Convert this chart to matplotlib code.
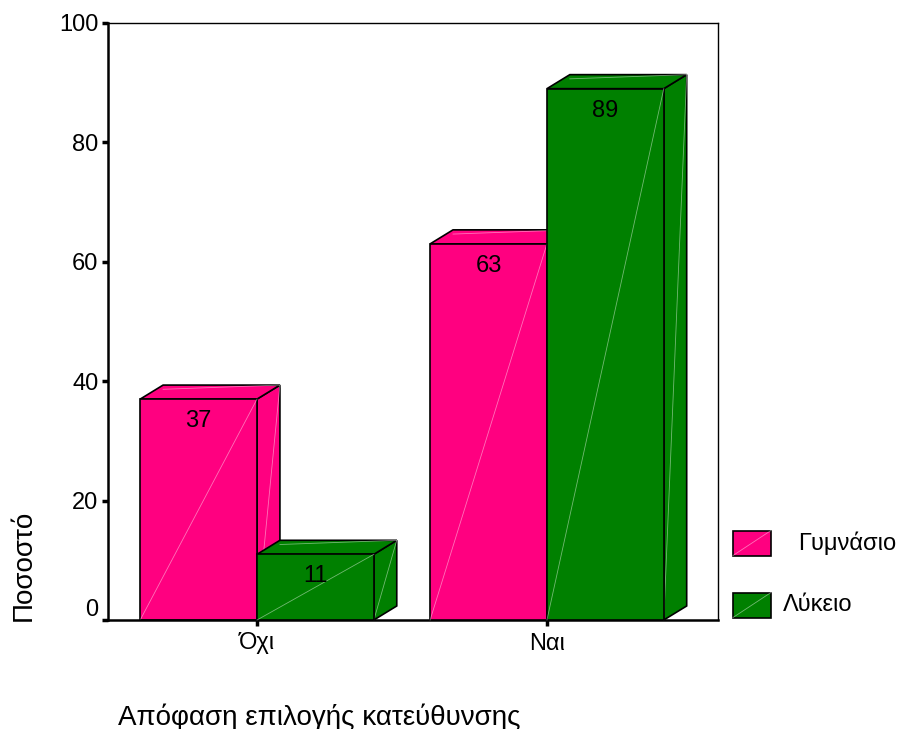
import matplotlib.pyplot as plt
from matplotlib.patches import Rectangle, Polygon
from matplotlib.transforms import ScaledTranslation

plt.rcParams['font.family'] = ['Liberation Sans', 'DejaVu Sans']

# Data
categories = ["Όχι", "Ναι"]
groups = ["Γυμνάσιο", "Λύκειο"]
gymnasio = [37, 63]
lykeio = [11, 89]
y_ticks = [0, 20, 40, 60, 80, 100]

COLORS = ["#FF0080", "#008000"]
FONTSIZE = 17
FONTSIZE_TITLE = 20

W = 0.403      # bar width (data units)
DX = 0.079     # 3D depth offset in x
DY = 2.35      # 3D depth offset in y


def draw_bar(ax, x0, h, color, z):
    edge = dict(facecolor=color, edgecolor='black', linewidth=1.2, clip_on=False, zorder=z)
    light = dict(color='white', alpha=0.45, linewidth=0.6, clip_on=False, zorder=z + 0.1)
    # side face
    ax.add_patch(Polygon([(x0 + W, 0), (x0 + W + DX, DY), (x0 + W + DX, h + DY), (x0 + W, h)], **edge))
    # top face
    ax.add_patch(Polygon([(x0, h), (x0 + DX, h + DY), (x0 + W + DX, h + DY), (x0 + W, h)], **edge))
    # faint shading lines on side and top
    ax.plot([x0 + W, x0 + W + DX], [0, h + DY], **light)
    ax.plot([x0 + DX, x0 + W + DX], [h + DY * 0.7, h + DY], **light)
    # front face
    edge['zorder'] = z + 0.2
    ax.add_patch(Rectangle((x0, 0), W, h, **edge))
    light['zorder'] = z + 0.3
    ax.plot([x0, x0 + W], [0, h], **light)


fig = plt.figure(figsize=(8.99, 7.29), dpi=100)
ax = fig.add_axes([108 / 899, 109 / 729, 610 / 899, 597 / 729])

series = [gymnasio, lykeio]
z = 2
for i, cat in enumerate(categories):
    for j, values in enumerate(series):
        x0 = i + (j - 1) * W
        h = values[i]
        draw_bar(ax, x0, h, COLORS[j], z)
        ax.text(x0 + W / 2, h - 3.7, f"{h}", ha='center', va='center', fontsize=FONTSIZE, zorder=z + 0.5)
        z += 1

ax.set_xlim(-0.514, 1.590)
ax.set_ylim(0, 100)
ax.set_xticks(range(len(categories)))
ax.set_xticklabels(categories, fontsize=FONTSIZE)
ax.set_yticks(y_ticks)
ax.set_yticklabels([str(t) for t in y_ticks], fontsize=FONTSIZE)
ax.tick_params(axis='y', length=4, width=2.5, pad=3)
ax.tick_params(axis='x', length=4, width=2.5, pad=5)

# the "0" label sits a little above its tick in the original
zero = ax.get_yticklabels()[0]
zero.set_transform(zero.get_transform() + ScaledTranslation(0, 12 / 100, fig.dpi_scale_trans))

for side in ['left', 'bottom']:
    ax.spines[side].set_linewidth(1.8)
for side in ['top', 'right']:
    ax.spines[side].set_linewidth(1.0)

fig.text(24 / 899, 1 - 565 / 729, "Ποσοστό", rotation=90, ha='center', va='center', fontsize=FONTSIZE_TITLE)
fig.text(118 / 899, 1 - 717 / 729, "Απόφαση επιλογής κατεύθυνσης", ha='left', va='center', fontsize=FONTSIZE_TITLE)

# legend
leg_y = [543, 605]
leg_text_x = [798, 783]
for j, name in enumerate(groups):
    yc = 1 - leg_y[j] / 729
    box = Rectangle((733 / 899, yc - 12.5 / 729), 38 / 899, 25 / 729, transform=fig.transFigure,
                    facecolor=COLORS[j], edgecolor='black', linewidth=1.2)
    fig.add_artist(box)
    fig.add_artist(plt.Line2D([733 / 899, 771 / 899], [yc - 12.5 / 729, yc + 12.5 / 729],
                              transform=fig.transFigure, color='white', alpha=0.45, linewidth=0.6))
    fig.text(leg_text_x[j] / 899, yc, name, ha='left', va='center', fontsize=FONTSIZE)

fig.savefig("out.png", dpi=100)
